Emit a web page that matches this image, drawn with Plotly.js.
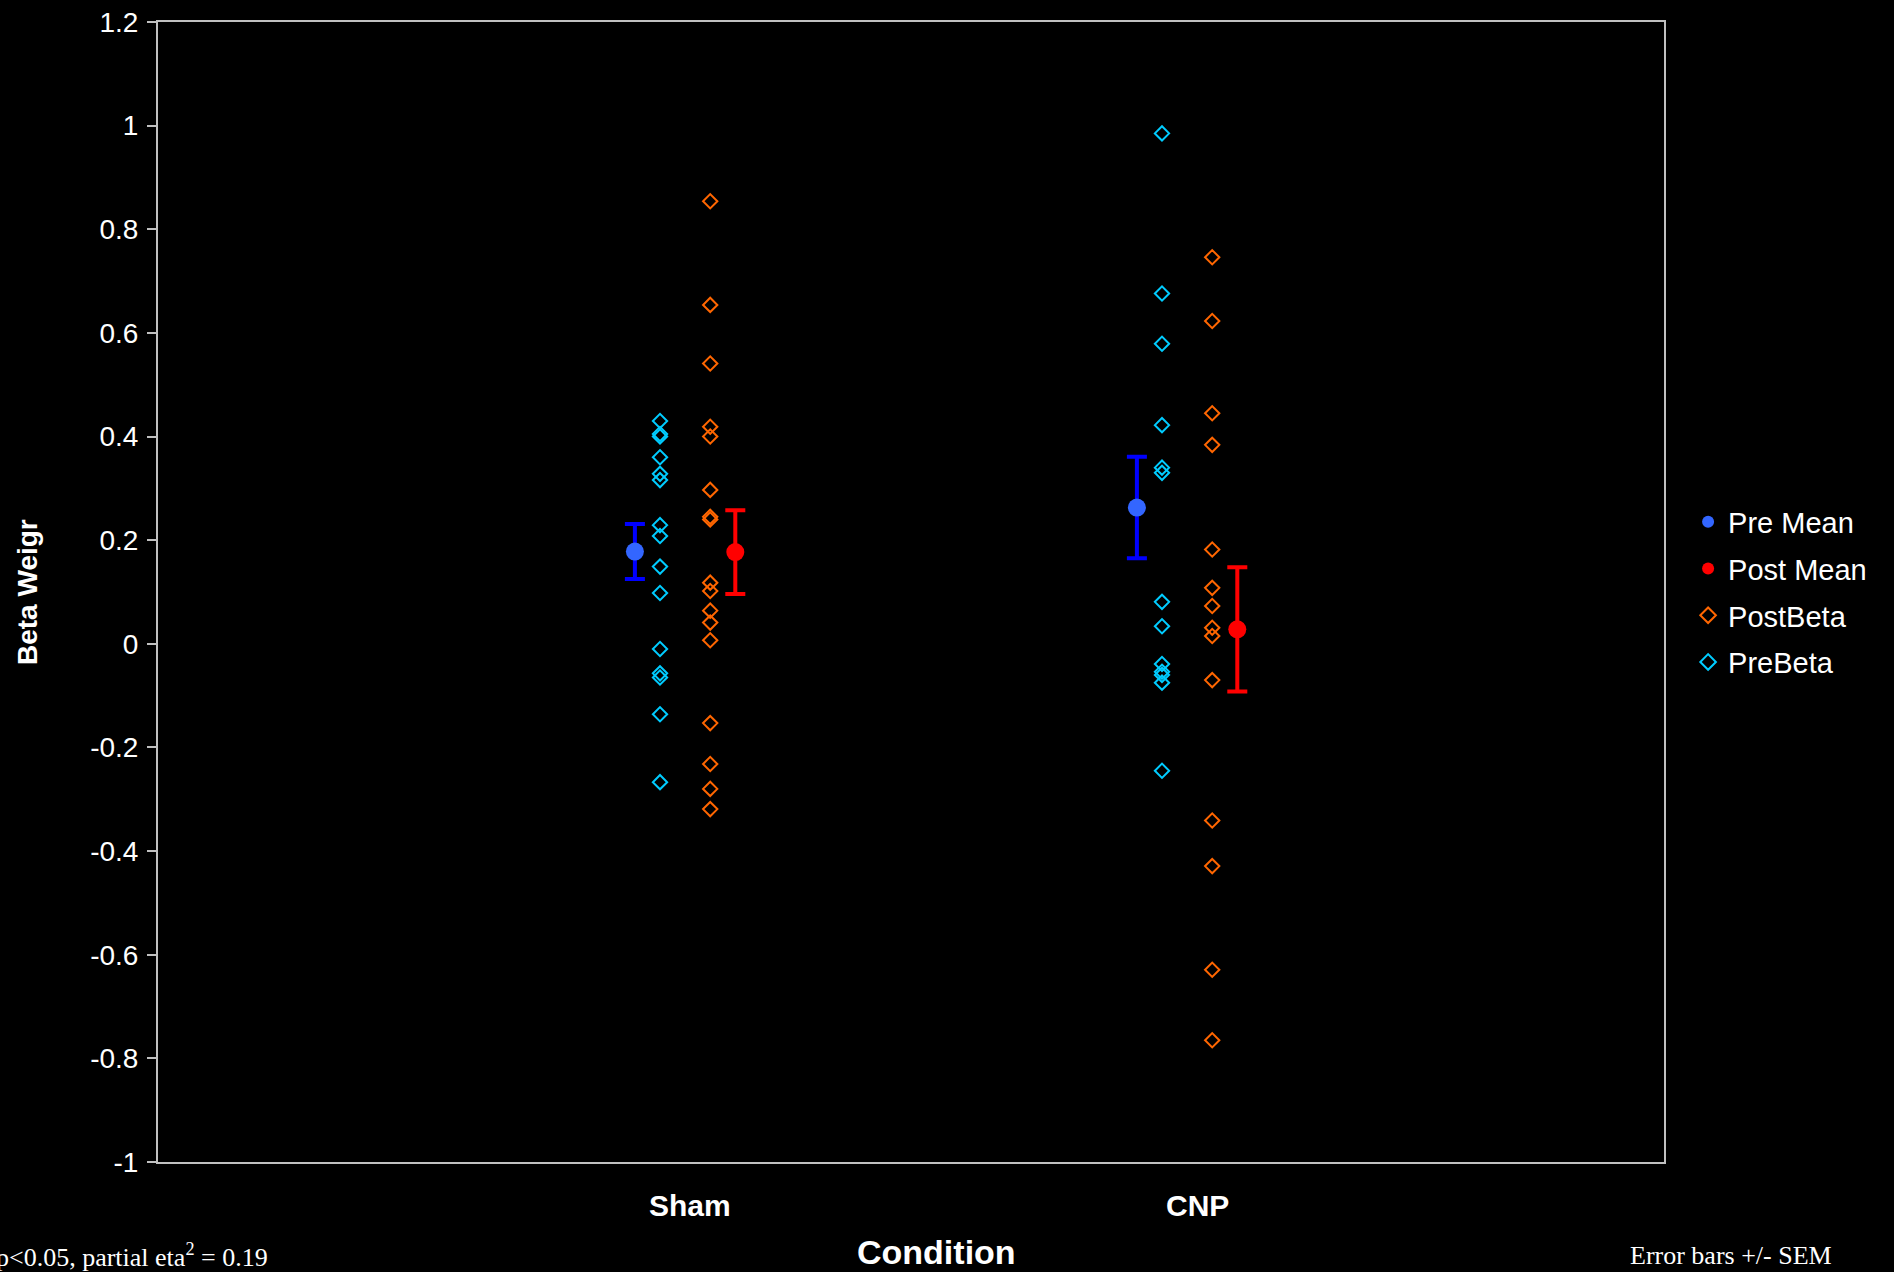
<!DOCTYPE html>
<html>
<head>
<meta charset="utf-8">
<script src="https://cdn.plot.ly/plotly-3.0.1.min.js"></script>
<style>
  html, body { margin: 0; padding: 0; background: #000; }
  #chart { width: 1894px; height: 1272px; }
</style>
</head>
<body>
<div id="chart"></div>
<script>
// ---- data ----
const conditions = ["Sham", "CNP"];
const conditionX = [1, 2];            // numeric position of each condition
const categoryLabelX = [1.06, 2.07];  // where the category labels sit

const shamPreBeta  = [0.43, 0.405, 0.40, 0.36, 0.328, 0.316, 0.229, 0.208, 0.149, 0.098, -0.01, -0.057, -0.065, -0.136, -0.267];
const shamPostBeta = [0.854, 0.654, 0.541, 0.419, 0.40, 0.297, 0.245, 0.24, 0.118, 0.102, 0.064, 0.041, 0.007, -0.153, -0.232, -0.28, -0.319];
const cnpPreBeta   = [0.985, 0.676, 0.579, 0.422, 0.340, 0.330, 0.081, 0.034, -0.039, -0.054, -0.060, -0.075, -0.245];
const cnpPostBeta  = [0.746, 0.623, 0.445, 0.384, 0.182, 0.108, 0.073, 0.031, 0.015, -0.070, -0.341, -0.429, -0.629, -0.765];

const preMean  = [0.178, 0.263];
const preSEM   = [0.053, 0.098];
const postMean = [0.177, 0.028];
const postSEM  = [0.081, 0.120];

const yTickVals = [1.2, 1, 0.8, 0.6, 0.4, 0.2, 0, -0.2, -0.4, -0.6, -0.8, -1];
const yTickText = ["1.2", "1", "0.8", "0.6", "0.4", "0.2", "0", "-0.2", "-0.4", "-0.6", "-0.8", "-1"];

// offsets of each series from the condition position
const offPreBeta = 0, offPostBeta = 0.1, offPreMean = -0.05, offPostMean = 0.15;

function xs(arr, base) { return arr.map(() => base); }

const preBetaX = xs(shamPreBeta, conditionX[0] + offPreBeta).concat(xs(cnpPreBeta, conditionX[1] + offPreBeta));
const preBetaY = shamPreBeta.concat(cnpPreBeta);
const postBetaX = xs(shamPostBeta, conditionX[0] + offPostBeta).concat(xs(cnpPostBeta, conditionX[1] + offPostBeta));
const postBetaY = shamPostBeta.concat(cnpPostBeta);

const diamondLine = 2;
const traces = [
  {
    name: "PreBeta", type: "scatter", mode: "markers",
    x: preBetaX, y: preBetaY,
    marker: { symbol: "diamond-open", size: 11, color: "#00ccff", line: { width: diamondLine, color: "#00ccff" } },
    legendrank: 4, legendgroup: "d", hoverinfo: "y"
  },
  {
    name: "PostBeta", type: "scatter", mode: "markers",
    x: postBetaX, y: postBetaY,
    marker: { symbol: "diamond-open", size: 11, color: "#ff6600", line: { width: diamondLine, color: "#ff6600" } },
    legendrank: 3, legendgroup: "c", hoverinfo: "y"
  },
  {
    name: "Pre Mean", type: "scatter", mode: "markers",
    x: conditionX.map(v => v + offPreMean), y: preMean,
    marker: { symbol: "circle", size: 18, color: "#3366ff" },
    error_y: { type: "data", array: preSEM, visible: true, color: "#0000ff", thickness: 4, width: 10 },
    legendrank: 1, legendgroup: "a", hoverinfo: "y"
  },
  {
    name: "Post Mean", type: "scatter", mode: "markers",
    x: conditionX.map(v => v + offPostMean), y: postMean,
    marker: { symbol: "circle", size: 18, color: "#ff0000" },
    error_y: { type: "data", array: postSEM, visible: true, color: "#ff0000", thickness: 4, width: 10 },
    legendrank: 2, legendgroup: "b", hoverinfo: "y"
  }
];

const plotTop = 22, plotBottom = 1162;
function py(pixel) { return (plotBottom - pixel) / (plotBottom - plotTop); }

const annotations = conditions.map((c, i) => ({
  text: "<b>" + c + "</b>", x: categoryLabelX[i], xref: "x", y: py(1206), yref: "paper",
  xanchor: "center", yanchor: "middle", showarrow: false,
  font: { family: "Arial, Liberation Sans, sans-serif", size: 30, color: "#ffffff" }
}));
annotations.push(
  { text: "<b>Condition</b>", x: 0.517, xref: "paper", y: py(1252), yref: "paper",
    xanchor: "center", yanchor: "middle", showarrow: false,
    font: { family: "Arial, Liberation Sans, sans-serif", size: 34, color: "#ffffff" } },
  { text: "<b>Beta Weigr</b>", x: (27 - 158) / 1506, xref: "paper", y: 0.5, yref: "paper",
    xanchor: "center", yanchor: "middle", textangle: -90, showarrow: false,
    font: { family: "Arial, Liberation Sans, sans-serif", size: 28, color: "#ffffff" } },
  { text: "p<0.05, partial eta<sup>2</sup> = 0.19", x: (-6 - 158) / 1506, xref: "paper", y: py(1255), yref: "paper",
    xanchor: "left", yanchor: "middle", showarrow: false,
    font: { family: "Liberation Serif, Times New Roman, serif", size: 26, color: "#ffffff" } },
  { text: "Error bars +/- SEM", x: (1628 - 158) / 1506, xref: "paper", y: py(1255), yref: "paper",
    xanchor: "left", yanchor: "middle", showarrow: false,
    font: { family: "Liberation Serif, Times New Roman, serif", size: 26, color: "#ffffff" } }
);

const layout = {
  width: 1894, height: 1272,
  paper_bgcolor: "#000000", plot_bgcolor: "#000000",
  margin: { l: 158, r: 230, t: 22, b: 110, pad: 0 },
  showlegend: true,
  legend: {
    x: 1.016, xanchor: "left", y: 0.5, yanchor: "middle",
    font: { family: "Arial, Liberation Sans, sans-serif", size: 29, color: "#ffffff" },
    bgcolor: "rgba(0,0,0,0)", traceorder: "grouped", tracegroupgap: 6,
    itemsizing: "constant"
  },
  xaxis: {
    range: [0, 3], showgrid: false, zeroline: false,
    showticklabels: false, ticks: "",
    showline: true, linecolor: "#c0c0c0", linewidth: 2, mirror: true, fixedrange: true
  },
  yaxis: {
    range: [-1, 1.2], showgrid: false, zeroline: false,
    tickmode: "array", tickvals: yTickVals, ticktext: yTickText,
    ticks: "outside", ticklen: 9, tickwidth: 2, tickcolor: "#c0c0c0",
    ticklabelstandoff: 3,
    tickfont: { family: "Arial, Liberation Sans, sans-serif", size: 28, color: "#ffffff" },
    showline: true, linecolor: "#c0c0c0", linewidth: 2, mirror: true, fixedrange: true
  },
  annotations: annotations
};

Plotly.newPlot("chart", traces, layout, { displayModeBar: false, staticPlot: true });
</script>
</body>
</html>
